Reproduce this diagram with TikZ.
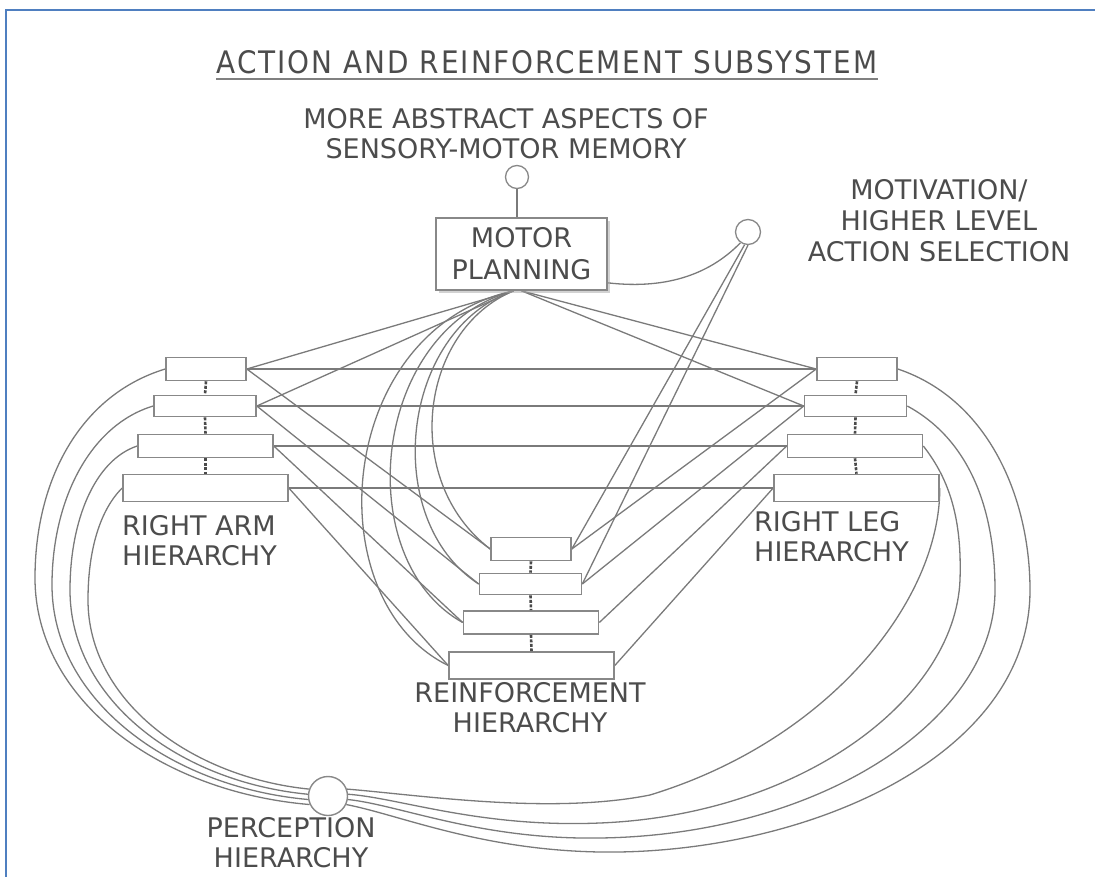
\documentclass[tikz,border=0pt]{standalone}
\usepackage{fontspec}
\setmainfont{DejaVu Sans}
\newfontfamily\titlefont[LetterSpace=6.5]{DejaVu Sans Condensed}
\usetikzlibrary{shadows}
\definecolor{labelgray}{HTML}{4C4C4C}
\definecolor{wiregray}{HTML}{7A7A7A}
\definecolor{boxgray}{HTML}{888888}
\definecolor{linkgray}{HTML}{4A4A4A}
\definecolor{frameblue}{HTML}{4F7FC0}
\pgfdeclarelayer{back}
\pgfsetlayers{back,main}
\begin{document}
\begin{tikzpicture}[x=1pt,y=-1pt,
  lbl/.style={text=labelgray, font=\fontsize{27}{30}\selectfont, align=center, inner sep=0pt},
  hbox/.style={draw=boxgray, line width=1.6pt, fill=white, inner sep=0pt},
  lvl1/.style={hbox, minimum width=80pt, minimum height=23pt},
  lvl2/.style={hbox, minimum width=102pt, minimum height=21pt},
  lvl3/.style={hbox, minimum width=135pt, minimum height=23pt},
  lvl4/.style={hbox, minimum width=165pt, minimum height=27pt},
  wire/.style={draw=wiregray, line width=1.3pt},
  link/.style={draw=linkgray, line width=2.6pt, dash pattern=on 3pt off 1.5pt},
]
\useasboundingbox (0,0) rectangle (1095,877);

% frame edges
\draw[frameblue, line width=2pt] (6,877) -- (6,10) -- (1095,10);

% title with underline
\node[text=labelgray, font=\titlefont\fontsize{31}{34}\selectfont, inner sep=0pt] (title) at (547,62) {ACTION AND REINFORCEMENT SUBSYSTEM};
\draw[draw=gray, line width=1.8pt] (title.south west) ++(0,5) coordinate (ul) -- (ul -| title.south east);

% upper labels and ports
\node[lbl] (memlbl) at (506,134) {MORE ABSTRACT ASPECTS OF\\SENSORY-MOTOR MEMORY};
\node[draw=boxgray, line width=1.3pt, fill=white, circle, minimum size=23pt, inner sep=0pt] (memc) at (517,177) {};
\node[hbox, line width=1.7pt, minimum width=171pt, minimum height=72pt, font=\fontsize{27}{32}\selectfont, text=labelgray, align=center,
      drop shadow={shadow xshift=3pt, shadow yshift=-3pt, fill=gray!70}] (motor) at (521.5,254) {MOTOR\\PLANNING};
\node[draw=boxgray, line width=1.3pt, fill=white, circle, minimum size=25pt, inner sep=0pt] (motc) at (748,232) {};
\node[lbl, font=\fontsize{27}{31}\selectfont] (motlbl) at (939,221) {MOTIVATION/\\HIGHER LEVEL\\ACTION SELECTION};

% right arm hierarchy
\node[lvl1] (a1) at (206,369) {};
\node[lvl2] (a2) at (205,406) {};
\node[lvl3] (a3) at (205.5,446) {};
\node[lvl4] (a4) at (205.5,488) {};
\node[lbl, align=left, anchor=west] (armlbl) at (122,541) {RIGHT ARM\\HIERARCHY};

% right leg hierarchy
\node[lvl1] (l1) at (857,369) {};
\node[lvl2] (l2) at (855.5,406) {};
\node[lvl3] (l3) at (855,446) {};
\node[lvl4] (l4) at (856.5,488) {};
\node[lbl, align=left, anchor=west] (leglbl) at (754,537) {RIGHT LEG\\HIERARCHY};

% reinforcement hierarchy
\node[lvl1] (r1) at (531,549) {};
\node[lvl2] (r2) at (530.5,584) {};
\node[lvl3] (r3) at (531,622.5) {};
\node[lvl4] (r4) at (531.5,665.5) {};
\node[lbl] (reinlbl) at (530,708) {REINFORCEMENT\\HIERARCHY};

% perception
\node[draw=boxgray, line width=1.4pt, fill=white, circle, minimum size=39pt, inner sep=0pt] (pc) at (328,796) {};
\node[lbl] (perclbl) at (291,843) {PERCEPTION\\HIERARCHY};

\coordinate (fanL) at ([xshift=-8pt]motor.south);
\coordinate (fanR) at (motor.south);

\begin{pgfonlayer}{back}
% memory port and motivation link
\draw[wire] (memc.south) -- (memc.south |- motor.north);
\draw[wire] ([yshift=8pt]motor.south east) .. controls (670,290) and (712,272) .. (motc.235);

% motor planning fan to the limb hierarchies
\draw[wire] (fanL) -- (a1.east);
\draw[wire] (fanL) -- (a2.east);
\draw[wire] (fanR) -- (l1.west);
\draw[wire] (fanR) -- (l2.west);

% motor planning arcs to the reinforcement hierarchy
\draw[wire] (fanL) .. controls (420,330) and (400,480) .. (r1.west);
\draw[wire] (fanL) .. controls (400,330) and (380,520) .. (r2.west);
\draw[wire] (fanL) .. controls (370,330) and (350,560) .. (r3.west);
\draw[wire] (fanL) .. controls (335,330) and (315,600) .. (r4.west);

% motivation to reinforcement
\draw[wire] (motc.255) -- (r1.east);
\draw[wire] (motc.270) -- (r2.east);

% level-to-level links
\foreach \i in {1,2,3,4}{
  \draw[wire] (a\i.east) -- (l\i.west);
  \draw[wire] (a\i.east) -- (r\i.west);
  \draw[wire] (l\i.west) -- (r\i.east);
}

% left loops into perception
\draw[wire] (a1.west) .. controls (80,395) and (35,480) .. (35,578) .. controls (35,700) and (160,792) .. (pc.205);
\draw[wire] (a2.west) .. controls (90,425) and (52,500) .. (52,585) .. controls (52,700) and (170,787) .. (pc.190);
\draw[wire] (a3.west) .. controls (95,460) and (70,520) .. (70,590) .. controls (70,700) and (180,782) .. (pc.175);
\draw[wire] (a4.west) .. controls (100,510) and (88,550) .. (88,600) .. controls (88,700) and (190,777) .. (pc.160);

% right loops into perception
\draw[wire] (l1.east) .. controls (990,400) and (1030,500) .. (1030,590) .. controls (1030,760) and (800,855) .. (600,852) .. controls (480,850) and (400,815) .. (pc.-25);
\draw[wire] (l2.east) .. controls (970,440) and (995,510) .. (995,590) .. controls (995,720) and (820,835) .. (600,838) .. controls (480,840) and (400,805) .. (pc.-10);
\draw[wire] (l3.east) .. controls (950,480) and (962,520) .. (960,580) .. controls (955,700) and (800,815) .. (600,823) .. controls (480,828) and (400,798) .. (pc.5);
\draw[wire] (l4.east) .. controls (940,600) and (830,740) .. (650,795) .. controls (550,815) and (420,795) .. (pc.20);
\end{pgfonlayer}

% vertical level links
\foreach \i/\j in {1/2,2/3,3/4}{
  \draw[link] (a\i.south) -- (a\j.north);
  \draw[link] (l\i.south) -- (l\j.north);
  \draw[link] (r\i.south) -- (r\j.north);
}
\end{tikzpicture}
\end{document}
